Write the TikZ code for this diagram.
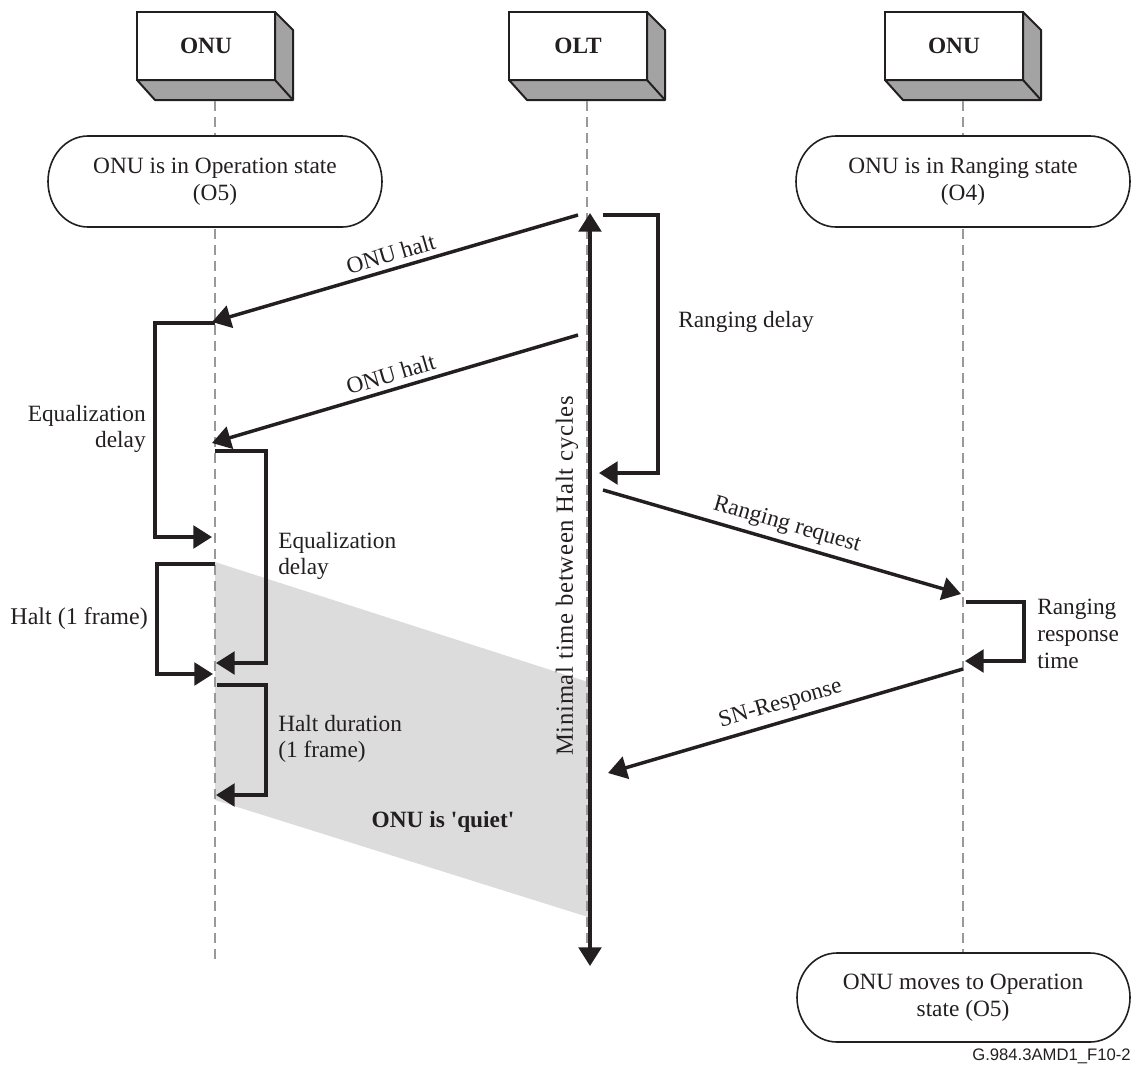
\documentclass[tikz,border=0pt]{standalone}
\usepackage{fontspec}
\setmainfont{Liberation Serif}
\newfontfamily\footfont{Liberation Sans}
\usetikzlibrary{arrows.meta}
\definecolor{ink}{HTML}{231F20}
\definecolor{sidegray}{HTML}{A3A3A3}
\definecolor{lifegray}{HTML}{999999}
\definecolor{quietgray}{HTML}{DCDCDC}
% stadium outline: x1, y1, x2, y2 (pixel units)
\newcommand\stadiumbox[4]{%
  \pgfmathsetmacro\sbm{(#2+#4)/2}%
  \pgfmathsetmacro\sbry{(#4-#2)/2}%
  \draw[draw=ink, line width=1.2pt, fill=white]
    (#1+40,#2) -- (#3-40,#2)
    .. controls (#3-17.9,#2) and (#3,\sbm-0.5523*\sbry) .. (#3,\sbm)
    .. controls (#3,\sbm+0.5523*\sbry) and (#3-17.9,#4) .. (#3-40,#4)
    -- (#1+40,#4)
    .. controls (#1+17.9,#4) and (#1,\sbm+0.5523*\sbry) .. (#1,\sbm)
    .. controls (#1,\sbm-0.5523*\sbry) and (#1+17.9,#2) .. cycle;}
\begin{document}
\begin{tikzpicture}[x=0.75pt,y=-0.75pt,
  every node/.style={font=\fontsize{17.5}{20}\selectfont, text=ink},
  lifeline/.style={draw=lifegray, line width=1.8pt, dash pattern=on 7.5pt off 4.5pt},
  msg/.style={draw=ink, line width=2.6pt, -{Triangle[length=14pt,width=17pt]}},
  dbl/.style={draw=ink, line width=2.6pt, {Triangle[length=14pt,width=17pt]}-{Triangle[length=14pt,width=17pt]}},
  statetext/.style={align=center, inner sep=0pt},
  lbl/.style={inner sep=0pt, align=left},
  rlbl/.style={inner sep=0pt, align=right},
  entity/.style={draw=ink, line width=1.5pt, fill=white, minimum width=103.5pt, minimum height=51pt, inner sep=0pt, font=\fontsize{17.5}{20}\selectfont\bfseries}
]
\useasboundingbox (0,0) rectangle (1136,1068);

% shaded quiet region
\fill[quietgray] (215,562) -- (588,682) -- (588,917) -- (215,800) -- cycle;

% 3D entity boxes
\foreach \cx/\lab/\nm in {215/ONU/onuL, 587/OLT/olt, 963/ONU/onuR} {
  \draw[draw=ink, line width=1.5pt, fill=sidegray, line join=round]
    (\cx+60,12) -- (\cx+78,30) -- (\cx+78,100) -- (\cx-60,100) -- (\cx-78,80) -- (\cx+60,80) -- cycle;
  \draw[draw=ink, line width=1.5pt] (\cx+60,80) -- (\cx+78,100);
  \node[entity] (\nm) at (\cx-9,46) {\lab};
}

% lifelines
\coordinate (lLt) at (215,101); \coordinate (lLb) at (215,965);
\coordinate (lOt) at (587,101); \coordinate (lOb) at (587,965);
\coordinate (lRt) at (963,101); \coordinate (lRb) at (963,952);
\draw[lifeline] (lLt) -- (lLb);
\draw[lifeline] (lOt) -- (lOb);
\draw[lifeline] (lRt) -- (lRb);

% state boxes
\stadiumbox{48}{136}{382}{227}
\node[statetext] (stL) at (215,182) {ONU is in Operation state\\(O5)};
\stadiumbox{796}{136}{1130}{227}
\node[statetext] (stR) at (963,182) {ONU is in Ranging state\\(O4)};
\stadiumbox{797}{953}{1130}{1042}
\node[statetext] (stF) at (963,998) {ONU moves to Operation\\state (O5)};

% ONU halt messages
\coordinate (a1s) at (578,215); \coordinate (a1e) at (212,322);
\draw[msg] (a1s) -- node[above=4pt, sloped, inner sep=0pt] {ONU halt} (a1e);
\coordinate (a2s) at (578,335); \coordinate (a2e) at (212,443);
\draw[msg] (a2s) -- node[above=4pt, sloped, inner sep=0pt] {ONU halt} (a2e);

% Ranging delay
\coordinate (rds) at (603,215); \coordinate (rde) at (599,473);
\draw[msg] (rds) -- ++(55,0) |- (rde);
\node[lbl, anchor=west] (rdl) at (678,322) {Ranging delay};

% Equalization delay (left)
\coordinate (e1s) at (215,323); \coordinate (e1e) at (212,537);
\draw[msg] (e1s) -- ++(-60,0) |- (e1e);
\node[rlbl, anchor=east] (e1l) at (146,429) {Equalization\\delay};

% Equalization delay (right)
\coordinate (e2s) at (215,451); \coordinate (e2e) at (216,663);
\draw[msg] (e2s) -- ++(51,0) |- (e2e);
\node[lbl, anchor=west] (e2l) at (278,556) {Equalization\\delay};

% Halt (1 frame)
\coordinate (h1s) at (215,564); \coordinate (h1e) at (213,674);
\draw[msg] (h1s) -- ++(-58,0) |- (h1e);
\node[rlbl, anchor=east, font=\fontsize{18}{20}\selectfont] (h1l) at (148,619) {Halt (1 frame)};

% Halt duration
\coordinate (h2s) at (217,685); \coordinate (h2e) at (216,795);
\draw[msg] (h2s) -- ++(49,0) |- (h2e);
\node[lbl, anchor=west] (h2l) at (278,739) {Halt duration\\(1 frame)};

% Ranging request
\coordinate (rrs) at (603,490); \coordinate (rre) at (961,594);
\draw[msg] (rrs) -- node[above=4pt, sloped, inner sep=0pt] {Ranging request} (rre);

% Ranging response time
\coordinate (rps) at (966,602); \coordinate (rpe) at (965,661);
\draw[msg] (rps) -- ++(58,0) |- (rpe);
\node[lbl, anchor=west] (rpl) at (1037,634) {Ranging\\response\\time};

% SN-Response
\coordinate (sns) at (963,669); \coordinate (sne) at (608,773);
\draw[msg] (sns) -- node[above=4pt, sloped, inner sep=0pt] {SN-Response} (sne);

% Minimal time between halt cycles
\coordinate (mts) at (590,213); \coordinate (mte) at (590,966);
\draw[dbl] (mts) -- (mte);
\node[rotate=90, inner sep=0pt, font=\fontsize{18.5}{20}\selectfont\addfontfeature{LetterSpace=3}] (mtl) at (567,576) {Minimal time between Halt cycles};

% quiet label
\node[font=\fontsize{17.5}{20}\selectfont\bfseries] (quiet) at (443,822) {ONU is \textquotesingle quiet\textquotesingle};

% footer
\node[anchor=east, inner sep=0pt, font=\footfont\fontsize{12.5}{14}\selectfont] (foot) at (1131,1056) {G.984.3AMD1\_F10-2};
\end{tikzpicture}
\end{document}
